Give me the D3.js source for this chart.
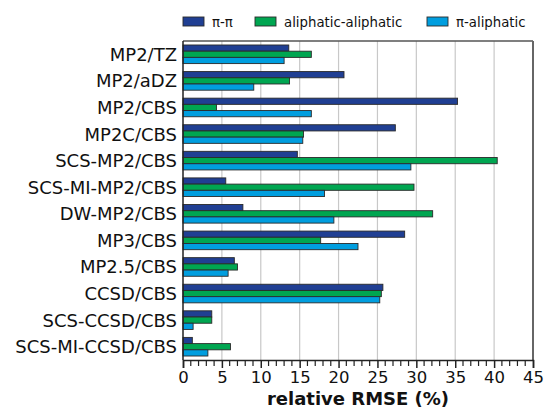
<!DOCTYPE html>
<html>
<head>
<meta charset="utf-8">
<script src="https://cdn.jsdelivr.net/npm/d3@7"></script>
<style>
  body { margin: 0; background: #fff; }
  text { font-family: "DejaVu Sans", sans-serif; fill: #111; }
</style>
</head>
<body>
<div id="chart"></div>
<script>
const methods = ["MP2/TZ", "MP2/aDZ", "MP2/CBS", "MP2C/CBS", "SCS-MP2/CBS", "SCS-MI-MP2/CBS",
  "DW-MP2/CBS", "MP3/CBS", "MP2.5/CBS", "CCSD/CBS", "SCS-CCSD/CBS", "SCS-MI-CCSD/CBS"];
const seriesNames = ["π-π", "aliphatic-aliphatic", "π-aliphatic"];
const piPi =    [13.6, 20.7, 35.3, 27.3, 14.7,  5.5,  7.7, 28.5, 6.6, 25.7, 3.7, 1.2];
const aliAli =  [16.5, 13.7,  4.3, 15.5, 40.4, 29.7, 32.1, 17.7, 7.0, 25.5, 3.7, 6.1];
const piAli =   [13.0,  9.1, 16.5, 15.4, 29.3, 18.2, 19.4, 22.5, 5.8, 25.3, 1.3, 3.2];
const xTicks = [0, 5, 10, 15, 20, 25, 30, 35, 40, 45];
const colors = ["#203f93", "#00a651", "#009edf"];

const W = 546, H = 408;
const m = { top: 41, right: 13, bottom: 48, left: 183 };

const svg = d3.select("#chart").append("svg")
  .attr("width", W).attr("height", H);

const x = d3.scaleLinear().domain([0, 45]).range([m.left, W - m.right]);
const y = d3.scaleBand().domain(methods).range([m.top, H - m.bottom])
  .paddingInner(0.3).paddingOuter(0.15);
const ySub = d3.scaleBand().domain(seriesNames).range([0, y.bandwidth()]);

const rows = methods.map((name, i) => ({ name, vals: [piPi[i], aliAli[i], piAli[i]] }));

// grid
svg.append("g").selectAll("line")
  .data(xTicks.slice(1, -1))
  .enter().append("line")
  .attr("x1", d => x(d)).attr("x2", d => x(d))
  .attr("y1", m.top).attr("y2", H - m.bottom)
  .attr("stroke", "#c8c8c8").attr("stroke-width", 1.2);

// bars
const grp = svg.selectAll("g.grp")
  .data(rows)
  .enter().append("g")
  .attr("class", "grp")
  .attr("transform", d => "translate(0," + y(d.name) + ")");

grp.selectAll("rect")
  .data(d => d.vals.map((v, k) => ({ k, v })))
  .enter().append("rect")
  .attr("x", x(0))
  .attr("y", d => ySub(seriesNames[d.k]))
  .attr("width", d => x(d.v) - x(0))
  .attr("height", ySub.bandwidth())
  .attr("fill", d => colors[d.k])
  .attr("stroke", "#2a2a2a").attr("stroke-width", 0.9);

// frame
svg.append("line").attr("x1", x(0)).attr("x2", x(45)).attr("y1", m.top).attr("y2", m.top)
  .attr("stroke", "#555").attr("stroke-width", 1.5);
svg.append("line").attr("x1", x(45)).attr("x2", x(45)).attr("y1", m.top).attr("y2", H - m.bottom)
  .attr("stroke", "#666").attr("stroke-width", 2);
svg.append("line").attr("x1", x(0)).attr("x2", x(0)).attr("y1", m.top).attr("y2", H - m.bottom)
  .attr("stroke", "#222").attr("stroke-width", 1.5);

// x axis
const xAxis = svg.append("g")
  .attr("transform", "translate(0," + (H - m.bottom) + ")")
  .call(d3.axisBottom(x).tickValues(xTicks).tickSize(8).tickPadding(3).tickFormat(d3.format("d")));
xAxis.select(".domain").attr("stroke", "#222").attr("stroke-width", 1.5);
xAxis.selectAll(".tick line").attr("stroke", "#222").attr("stroke-width", 1.5);
xAxis.selectAll("text").attr("font-size", 16.5).attr("fill", "#111")
  .attr("font-family", "DejaVu Sans, sans-serif");

svg.append("g")
  .attr("transform", "translate(0," + (H - m.bottom) + ")")
  .selectAll("line")
  .data(d3.range(0, 46).filter(v => v % 5 !== 0))
  .enter().append("line")
  .attr("x1", d => x(d)).attr("x2", d => x(d))
  .attr("y1", 1).attr("y2", 6)
  .attr("stroke", "#222").attr("stroke-width", 1.2);

svg.append("text")
  .attr("x", (x(0) + x(45)) / 2).attr("y", 405)
  .attr("text-anchor", "middle")
  .attr("font-size", 18).attr("font-weight", "bold")
  .text("relative RMSE (%)");

// y labels
svg.append("g").selectAll("text")
  .data(methods)
  .enter().append("text")
  .attr("x", x(0) - 6)
  .attr("y", d => y(d) + y.bandwidth() / 2)
  .attr("dy", "0.36em")
  .attr("text-anchor", "end")
  .attr("font-size", 18)
  .text(d => d);

// legend
const legX = [183, 255, 427];
const leg = svg.selectAll("g.leg")
  .data(seriesNames)
  .enter().append("g")
  .attr("class", "leg")
  .attr("transform", (d, i) => "translate(" + legX[i] + ",17)");
leg.append("rect")
  .attr("width", 21).attr("height", 9)
  .attr("fill", (d, i) => colors[i])
  .attr("stroke", "#2a2a2a").attr("stroke-width", 0.9);
leg.append("text")
  .attr("x", 29).attr("y", 5).attr("dy", "0.36em")
  .attr("font-size", 13.3)
  .text(d => d);
</script>
</body>
</html>
